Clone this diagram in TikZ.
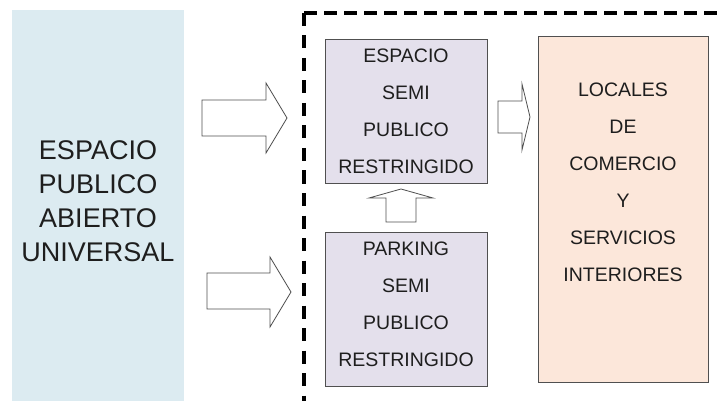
\documentclass[tikz,border=0pt]{standalone}
\usepackage{fontspec}
\setmainfont{Liberation Sans}
\definecolor{bluebg}{HTML}{DCEBF1}
\definecolor{lav}{HTML}{E4E0EC}
\definecolor{peach}{HTML}{FCE7DA}
\definecolor{ink}{HTML}{1E1E1E}
\definecolor{edge}{HTML}{505050}
\begin{document}
\begin{tikzpicture}[x=1pt,y=-1pt,
  zone/.style={draw=none,fill=bluebg,anchor=center,inner sep=0pt},
  boxsemi/.style={draw=edge,line width=0.9pt,fill=lav,inner sep=0pt},
  boxcom/.style={draw=edge,line width=0.9pt,fill=peach,inner sep=0pt},
  lbl/.style={text=ink,align=center,inner sep=0pt,font=\fontsize{19.5pt}{37pt}\selectfont},
  biglbl/.style={text=ink,align=center,inner sep=0pt,font=\fontsize{27pt}{34pt}\selectfont},
  blockarrow/.style={draw=edge,line width=0.8pt,fill=white,line join=miter},
  frameh/.style={draw=black,line width=3.6pt,dash pattern=on 13pt off 7pt},
  framev/.style={draw=black,line width=3.8pt,dash pattern=on 13pt off 9.5pt}
]
\useasboundingbox (0,0) rectangle (723,401);
\clip (0,0) rectangle (723,401);
\fill[white] (0,0) rectangle (723,401);
% public zone
\node[zone,minimum width=172pt,minimum height=420pt] (pub) at (98,220) {};
\node[biglbl] (publbl) at (98,201) {ESPACIO\\PUBLICO\\ABIERTO\\UNIVERSAL};
% dashed frame
\coordinate (fc) at (304,13);
\coordinate (fb) at (304,430);
\coordinate (fr) at (760,13);
\draw[framev] (fc) -- (fb);
\draw[frameh] (fc) -- (fr);
% boxes
\node[boxsemi,minimum width=162pt,minimum height=144pt] (esp) at (406,111) {};
\node[lbl] (esplbl) at (406,111) {ESPACIO\\SEMI\\PUBLICO\\RESTRINGIDO};
\node[boxsemi,minimum width=162pt,minimum height=154pt] (park) at (406,309) {};
\node[lbl] (parklbl) at (406,304.5) {PARKING\\SEMI\\PUBLICO\\RESTRINGIDO};
\node[boxcom,minimum width=170pt,minimum height=346pt] (loc) at (623,209) {};
\node[lbl] (loclbl) at (623,182) {LOCALES\\DE\\COMERCIO\\Y\\SERVICIOS\\INTERIORES};
% block arrows
\draw[blockarrow] (202,100) -- (266,100) -- (266,83) -- (287,118) -- (266,153) -- (266,136) -- (202,136) -- cycle;
\draw[blockarrow] (207,273) -- (270,273) -- (270,257) -- (291,292) -- (270,327) -- (270,309) -- (207,309) -- cycle;
\draw[blockarrow] (498,101) -- (522,101) -- (522,84) -- (530,117) -- (522,150) -- (522,133) -- (498,133) -- cycle;
\draw[blockarrow] (386,222) -- (386,198) -- (369,198) -- (401,189) -- (433,198) -- (416,198) -- (416,222) -- cycle;
\end{tikzpicture}
\end{document}
